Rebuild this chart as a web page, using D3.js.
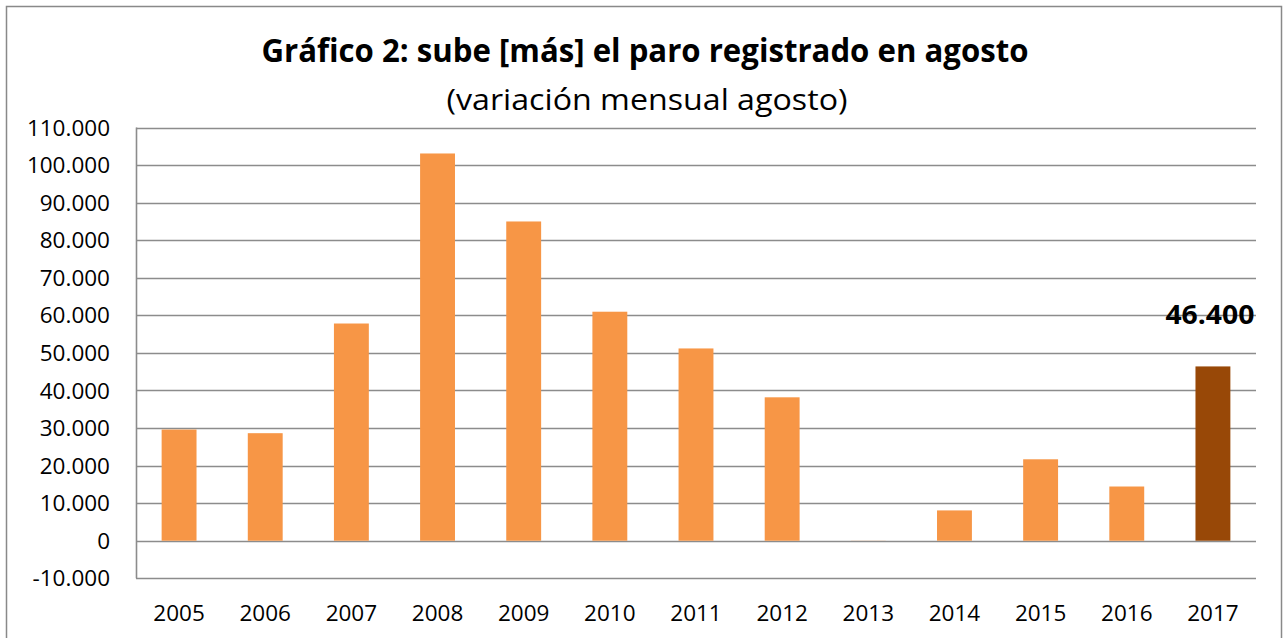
<!DOCTYPE html>
<html>
<head>
<meta charset="utf-8">
<script src="https://cdn.jsdelivr.net/npm/d3@7"></script>
<style>
  body { margin: 0; background: #fff; }
  svg { display: block; }
</style>
</head>
<body>
<script>
var width = 1285,
    height = 638;

var years = ["2005","2006","2007","2008","2009","2010","2011","2012","2013","2014","2015","2016","2017"];
var values = [29597, 28627, 57823, 103085, 84985, 60963, 51185, 38179, 31, 8070, 21679, 14435, 46400];
var yTicks = [-10000, 0, 10000, 20000, 30000, 40000, 50000, 60000, 70000, 80000, 90000, 100000, 110000];
var highlightYear = "2017";
var highlightLabel = "46.400";

var margin = {left: 136, right: 29, top: 127.5, bottom: 60};

var svg = d3.select("body").append("svg")
    .attr("width", width)
    .attr("height", height);

// outer frame
svg.append("rect")
    .attr("x", 6.5).attr("y", 6.5)
    .attr("width", width - 10).attr("height", height)
    .attr("fill", "none")
    .attr("stroke", "#898989")
    .attr("stroke-width", 1.5);

var x = d3.scaleBand()
    .domain(years)
    .range([margin.left, 1256])
    .paddingInner(0.595)
    .paddingOuter(0.2975);

var y = d3.scaleLinear()
    .domain([-10000, 110000])
    .range([578.3, 127.5]);

// Spanish style: dot for thousands, plain hyphen for minus
var fmt = function(d) {
  return d3.format(",")(d).replace(/,/g, ".").replace("\u2212", "-");
};

// gridlines
svg.append("g").selectAll("line")
  .data(yTicks)
  .join("line")
    .attr("x1", margin.left).attr("x2", 1256)
    .attr("y1", function(d) { return Math.round(y(d)) + 0.5; })
    .attr("y2", function(d) { return Math.round(y(d)) + 0.5; })
    .attr("stroke", "#8c8c8c")
    .attr("stroke-width", 1.6);

// left axis line
svg.append("line")
    .attr("x1", margin.left + 0.5).attr("x2", margin.left + 0.5)
    .attr("y1", y(110000)).attr("y2", y(-10000))
    .attr("stroke", "#8c8c8c")
    .attr("stroke-width", 1.6);

// y tick labels
svg.append("g").selectAll("text")
  .data(yTicks)
  .join("text")
    .attr("x", 110)
    .attr("y", function(d) { return y(d); })
    .attr("dy", "0.36em")
    .attr("text-anchor", "end")
    .attr("font-family", "'Open Sans', 'Noto Sans', sans-serif")
    .attr("font-size", 22.5)
    .attr("fill", "#000")
    .text(fmt);

// bars
svg.append("g").selectAll("rect")
  .data(values)
  .join("rect")
    .attr("x", function(d, i) { return x(years[i]); })
    .attr("width", x.bandwidth())
    .attr("y", function(d) { return y(Math.max(0, d)); })
    .attr("height", function(d) { return Math.abs(y(d) - y(0)); })
    .attr("fill", function(d, i) { return years[i] === highlightYear ? "#984807" : "#f79646"; });

// x labels
svg.append("g").selectAll("text")
  .data(years)
  .join("text")
    .attr("x", function(d) { return x(d) + x.bandwidth() / 2; })
    .attr("y", 621)
    .attr("text-anchor", "middle")
    .attr("font-family", "'Open Sans', 'Noto Sans', sans-serif")
    .attr("font-size", 22.5)
    .attr("fill", "#000")
    .text(function(d) { return d; });

// highlighted value label
var hi = years.indexOf(highlightYear);
svg.append("text")
    .attr("x", x(highlightYear) + x.bandwidth() / 2 - 3)
    .attr("y", y(values[hi]) - 42)
    .attr("text-anchor", "middle")
    .attr("font-family", "'Open Sans', 'Noto Sans', sans-serif")
    .attr("font-weight", "bold")
    .attr("font-size", 26)
    .attr("textLength", 89)
    .attr("lengthAdjust", "spacingAndGlyphs")
    .attr("fill", "#000")
    .text(highlightLabel);

// titles
svg.append("text")
    .attr("x", 645)
    .attr("y", 62)
    .attr("text-anchor", "middle")
    .attr("font-family", "'Open Sans', 'Noto Sans', sans-serif")
    .attr("font-weight", "bold")
    .attr("font-size", 32)
    .attr("textLength", 767)
    .attr("lengthAdjust", "spacingAndGlyphs")
    .attr("fill", "#000")
    .text("Gráfico 2: sube [más] el paro registrado en agosto");

svg.append("text")
    .attr("x", 647)
    .attr("y", 110)
    .attr("text-anchor", "middle")
    .attr("font-family", "'Open Sans', 'Noto Sans', sans-serif")
    .attr("font-size", 29)
    .attr("textLength", 401)
    .attr("lengthAdjust", "spacingAndGlyphs")
    .attr("fill", "#000")
    .text("(variación mensual agosto)");
</script>
</body>
</html>
